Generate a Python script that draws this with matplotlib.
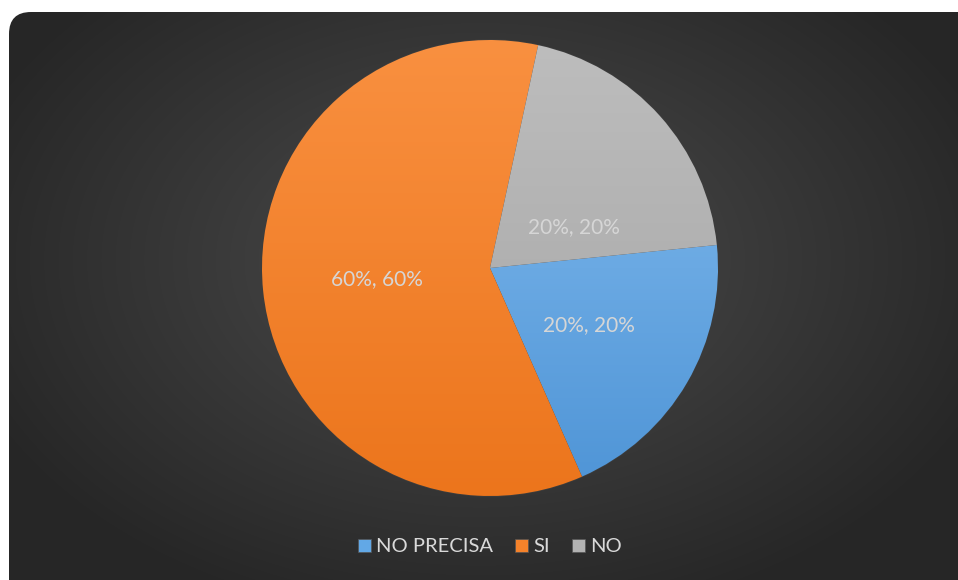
import numpy as np
import matplotlib
matplotlib.use('Agg')
import matplotlib.pyplot as plt
from matplotlib.patches import FancyBboxPatch

plt.rcParams['font.family'] = ['Lato', 'DejaVu Sans']

categories = ['NO PRECISA', 'SI', 'NO']
values = [20, 60, 20]
colors = ['#62A8E6', '#F5822A', '#B2B2B2']
tops = ['#86BEF0', '#F99040', '#BDBDBD']
bottoms = ['#4E94D6', '#EC751C', '#A4A4A4']

W, H = 958, 580
fig = plt.figure(figsize=(W / 100, H / 100), dpi=100)
fig.patch.set_facecolor('white')

# dark rounded panel with a soft radial glow
bg = fig.add_axes([0, 0, 1, 1])
bg.set_xlim(0, W)
bg.set_ylim(H, 0)
bg.axis('off')
yy, xx = np.mgrid[0:H, 0:W]
d = np.sqrt(((xx - 480) / 620) ** 2 + ((yy - 260) / 420) ** 2)
shade = np.clip(0.30 - 0.17 * d, 0.15, 0.30)
img = bg.imshow(np.dstack([shade] * 3), extent=[0, W, H, 0], zorder=0)
panel = FancyBboxPatch((9, 12), W + 30, H + 30,
                       boxstyle='round,pad=0,rounding_size=22',
                       transform=bg.transData, facecolor='none',
                       edgecolor='none')
bg.add_patch(panel)
img.set_clip_path(panel)

# pie
cx, cy, r = 490, 268, 228
ax = fig.add_axes([(cx - r) / W, (H - cy - r) / H, 2 * r / W, 2 * r / H])
ax.set_facecolor('none')
wedges, texts, autotexts = ax.pie(
    values, colors=colors, startangle=5.8, counterclock=False,
    autopct=lambda p: f'{p:.0f}%, {p:.0f}%', pctdistance=0.5,
    wedgeprops=dict(edgecolor='#3C3C3C', linewidth=1.0),
    textprops=dict(color='#D6D6D6', fontsize=15))
ax.set_xlim(-1, 1)
ax.set_ylim(-1, 1)
ax.set_aspect('equal')

for w, t, b in zip(wedges, tops, bottoms):
    c0 = np.array(matplotlib.colors.to_rgb(t))
    c1 = np.array(matplotlib.colors.to_rgb(b))
    f = np.linspace(0, 1, 200)[:, None]
    grad = (c0 * (1 - f) + c1 * f)[:, None, :].repeat(2, axis=1)
    im = ax.imshow(grad, extent=[-1, 1, -1, 1], aspect='auto', zorder=w.get_zorder() + 0.1)
    im.set_clip_path(w)

ax.pie(values, startangle=5.8, counterclock=False,
       wedgeprops=dict(facecolor='none', edgecolor='#3C3C3C', linewidth=1.0))
ax.set_xlim(-1, 1)
ax.set_ylim(-1, 1)
for t in autotexts:
    t.set_zorder(10)
autotexts[2].set_position((0.37, 0.18))

# legend
handles = [plt.Rectangle((0, 0), 1, 1, facecolor=c, edgecolor='#555555', linewidth=0.5)
           for c in colors]
leg = fig.legend(handles, categories, loc='center', bbox_to_anchor=(490 / W, 1 - 547 / H),
                 ncol=3, frameon=False, fontsize=14.5, handlelength=0.65,
                 handleheight=0.65, handletextpad=0.25, columnspacing=1.1)
for t in leg.get_texts():
    t.set_color('#D9D9D9')

fig.savefig('out.png', dpi=100, facecolor='white')
